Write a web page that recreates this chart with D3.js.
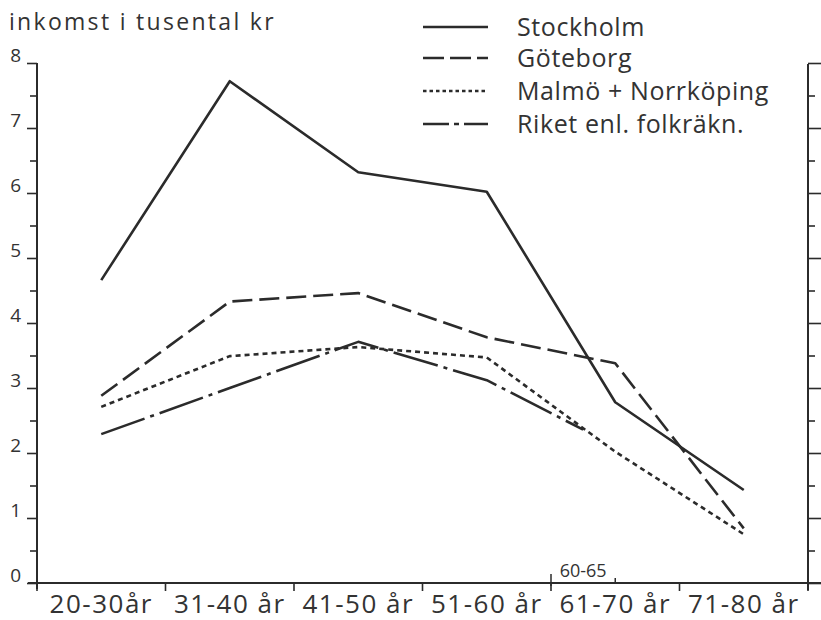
<!DOCTYPE html>
<html>
<head>
<meta charset="utf-8">
<script src="https://cdn.jsdelivr.net/npm/d3@7"></script>
<style>
  html, body { margin: 0; padding: 0; background: #fff; }
  svg text { font-family: "Open Sans", "DejaVu Sans", sans-serif; font-weight: 400; fill: #333; }
</style>
</head>
<body>
<svg id="chart" width="821" height="620"></svg>
<script>
// ---- data ----
const categories = ["20-30år", "31-40 år", "41-50 år", "51-60 år", "61-70 år", "71-80 år"];
const stockholm = [4.66, 7.72, 6.32, 6.02, 2.78, 1.43];
const goteborg  = [2.88, 4.33, 4.46, 3.78, 3.38, 0.84];
const malmo     = [2.71, 3.49, 3.63, 3.47, 2.02, 0.75];
const riket     = [2.29, 3.00, 3.71, 3.12, 2.36];   // last value is for 60-65 år
const riketLastLabel = "60-65";
const yMajorTicks = [0, 1, 2, 3, 4, 5, 6, 7, 8];
const yMinorTicks = [0.5, 1.5, 2.5, 3.5, 4.5, 5.5, 6.5, 7.5];
const yTitle = "inkomst i tusental kr";
const seriesNames = ["Stockholm", "Göteborg", "Malmö + Norrköping", "Riket enl. folkräkn."];

const ink = "#2b2b2b";
const txt = "#333";
const svg = d3.select("#chart");

const x = d3.scaleBand().domain(categories).range([37, 808]).paddingInner(0).paddingOuter(0);
const y = d3.scaleLinear().domain([0, 8]).range([583, 63]);
const bw = x.bandwidth();
const cx = c => x(c) + bw / 2;

// ---- y title ----
svg.append("text").attr("x", 9).attr("y", 30)
  .attr("font-size", 23).attr("letter-spacing", 2.3).text(yTitle);

// ---- left axis ----
const leftMajor = d3.axisLeft(y).tickValues(yMajorTicks).tickSize(10).tickPadding(6).tickFormat(d3.format("d"));
const gL = svg.append("g").attr("transform", "translate(37,0)").call(leftMajor);
gL.select(".domain").remove();
gL.selectAll("line").attr("stroke", ink).attr("stroke-width", 1.6);
gL.selectAll("text").attr("font-size", 19).attr("font-weight", 300).attr("dy", "-0.1em").style("fill", txt);
const gLm = svg.append("g").attr("transform", "translate(37,0)")
  .call(d3.axisLeft(y).tickValues(yMinorTicks).tickSize(7).tickFormat(""));
gLm.select(".domain").remove();
gLm.selectAll("line").attr("stroke", ink).attr("stroke-width", 1.6);
svg.append("line").attr("x1", 37).attr("x2", 37).attr("y1", y(8)).attr("y2", y(0) + 6)
  .attr("stroke", ink).attr("stroke-width", 2);

// ---- right axis ----
const gR = svg.append("g").attr("transform", "translate(808,0)")
  .call(d3.axisRight(y).tickValues(yMajorTicks).tickSize(14).tickFormat(""));
gR.select(".domain").remove();
gR.selectAll("line").attr("stroke", ink).attr("stroke-width", 1.6);
const gRm = svg.append("g").attr("transform", "translate(808,0)")
  .call(d3.axisRight(y).tickValues(yMinorTicks).tickSize(7).tickFormat(""));
gRm.select(".domain").remove();
gRm.selectAll("line").attr("stroke", ink).attr("stroke-width", 1.6);
svg.append("line").attr("x1", 808).attr("x2", 808).attr("y1", y(8) + 1).attr("y2", y(0) + 7)
  .attr("stroke", ink).attr("stroke-width", 2);

// ---- bottom axis ----
svg.append("line").attr("x1", 28).attr("x2", 821).attr("y1", y(0)).attr("y2", y(0))
  .attr("stroke", ink).attr("stroke-width", 2);
const boundaries = categories.map(c => x(c)).concat([x.range()[1]]);
svg.selectAll("line.xtick").data(boundaries).enter().append("line").attr("class", "xtick")
  .attr("x1", d => d).attr("x2", d => d).attr("y1", y(0)).attr("y2", y(0) + 8)
  .attr("stroke", ink).attr("stroke-width", 1.6);
const gB = svg.append("g").attr("transform", `translate(0,${y(0)})`)
  .call(d3.axisBottom(x).tickSize(0).tickPadding(0));
gB.select(".domain").remove();
gB.selectAll("text").attr("font-size", 26).attr("letter-spacing", 1.5)
  .attr("y", 30).attr("dy", 0).style("fill", txt);

// 60-65 bracket
const subStart = x(categories[4]);
const subEnd = subStart + bw / 2;
[subStart, subEnd].forEach((xx, i) => {
  svg.append("line").attr("x1", xx).attr("x2", xx).attr("y1", y(0) - (i ? 5 : 9)).attr("y2", y(0) + (i ? 0 : 3))
    .attr("stroke", ink).attr("stroke-width", 1.5);
});
svg.append("text").attr("x", (subStart + subEnd) / 2).attr("y", y(0) - 6)
  .attr("text-anchor", "middle").attr("font-size", 18).attr("font-weight", 300).text(riketLastLabel);

// ---- lines ----
const line = d3.line().x(d => d[0]).y(d => y(d[1]));
const styles = [
  { dash: null },
  { dash: "20,7" },
  { dash: "5,4" },
  { dash: "46,6,4,6" }
];
const seriesPts = [
  stockholm.map((v, i) => [cx(categories[i]), v]),
  goteborg.map((v, i) => [cx(categories[i]), v]),
  malmo.map((v, i) => [cx(categories[i]), v]),
  riket.map((v, i) => [i < riket.length - 1 ? cx(categories[i]) : (subStart + subEnd) / 2, v])
];
seriesPts.forEach((pts, k) => {
  svg.append("path").datum(pts).attr("d", line)
    .attr("fill", "none").attr("stroke", ink).attr("stroke-width", 2.6)
    .attr("stroke-linejoin", "round")
    .attr("stroke-dasharray", styles[k].dash);
});

// ---- legend ----
const legendStyles = [null, "21,6", "3.5,3", "26,5,5,5"];
const legBase = [36, 67, 100, 133];
seriesNames.forEach((name, k) => {
  svg.append("line").attr("x1", 423).attr("x2", 488)
    .attr("y1", legBase[k] - 9).attr("y2", legBase[k] - 9)
    .attr("stroke", ink).attr("stroke-width", 2.6)
    .attr("stroke-dasharray", legendStyles[k]);
  svg.append("text").attr("x", 517).attr("y", legBase[k])
    .attr("font-size", 25).attr("letter-spacing", 0.6).text(name);
});
</script>
</body>
</html>
